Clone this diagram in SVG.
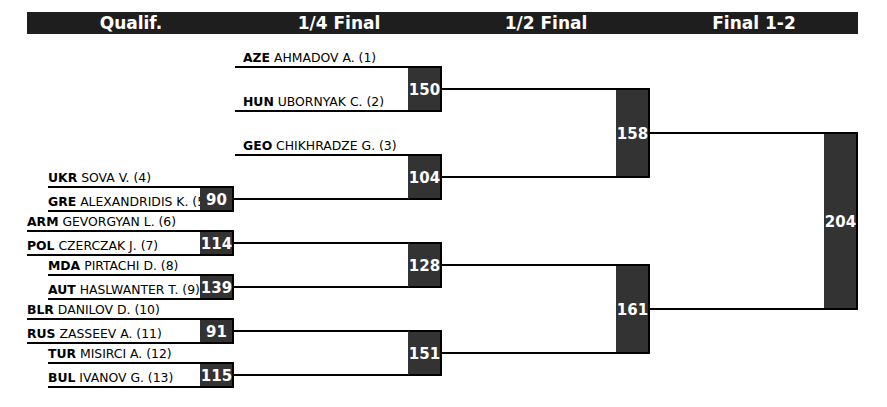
<svg xmlns="http://www.w3.org/2000/svg" width="887" height="407" viewBox="0 0 887 407">
<style>
.hdr{font-family:"DejaVu Sans",sans-serif;font-weight:bold;font-size:17px;fill:#fff;text-anchor:middle}
.nm{font-family:"DejaVu Sans",sans-serif;font-size:12.4px;fill:#000}
.nm tspan.c{font-weight:bold}
.sc{font-family:"DejaVu Sans",sans-serif;font-weight:bold;font-size:15px;fill:#fff;text-anchor:middle}
.bx{fill:#333}
.ln{stroke:#000;stroke-width:2;fill:none}
</style>
<rect x="27" y="12" width="831" height="22" fill="#1e1e1e"/>
<g id="headers">
<text class="hdr" x="131" y="29">Qualif.</text>
<text class="hdr" x="339" y="29">1/4 Final</text>
<text class="hdr" x="546" y="29">1/2 Final</text>
<text class="hdr" x="754" y="29">Final 1-2</text>
</g>
<g id="connectors">
<path class="ln" d="M234,199H409"/>
<path class="ln" d="M234,243H409"/>
<path class="ln" d="M234,287H409"/>
<path class="ln" d="M234,331H409"/>
<path class="ln" d="M234,375H409"/>
<path class="ln" d="M442,89H616"/>
<path class="ln" d="M442,177H616"/>
<path class="ln" d="M442,265H616"/>
<path class="ln" d="M442,353H616"/>
<path class="ln" d="M650,133H824"/>
<path class="ln" d="M650,309H824"/>
</g>
<g id="qA">
<text class="nm" x="48" y="182"><tspan class="c">UKR</tspan> SOVA V. (4)</text>
<text class="nm" x="48" y="206"><tspan class="c">GRE</tspan> ALEXANDRIDIS K. (5)</text>
<rect class="bx" x="200" y="187" width="33" height="24"/>
<path class="ln" d="M48,187H233V211H48"/>
<text class="sc" x="216.5" y="205">90</text>
</g>
<g id="qB">
<text class="nm" x="27" y="226"><tspan class="c">ARM</tspan> GEVORGYAN L. (6)</text>
<text class="nm" x="27" y="250"><tspan class="c">POL</tspan> CZERCZAK J. (7)</text>
<rect class="bx" x="200" y="231" width="33" height="24"/>
<path class="ln" d="M27,231H233V255H27"/>
<text class="sc" x="216.5" y="249">114</text>
</g>
<g id="qC">
<text class="nm" x="48" y="270"><tspan class="c">MDA</tspan> PIRTACHI D. (8)</text>
<text class="nm" x="48" y="294"><tspan class="c">AUT</tspan> HASLWANTER T. (9)</text>
<rect class="bx" x="200" y="275" width="33" height="24"/>
<path class="ln" d="M48,275H233V299H48"/>
<text class="sc" x="216.5" y="293">139</text>
</g>
<g id="qD">
<text class="nm" x="27" y="314"><tspan class="c">BLR</tspan> DANILOV D. (10)</text>
<text class="nm" x="27" y="338"><tspan class="c">RUS</tspan> ZASSEEV A. (11)</text>
<rect class="bx" x="200" y="319" width="33" height="24"/>
<path class="ln" d="M27,319H233V343H27"/>
<text class="sc" x="216.5" y="337">91</text>
</g>
<g id="qE">
<text class="nm" x="48" y="358"><tspan class="c">TUR</tspan> MISIRCI A. (12)</text>
<text class="nm" x="48" y="382"><tspan class="c">BUL</tspan> IVANOV G. (13)</text>
<rect class="bx" x="200" y="363" width="33" height="24"/>
<path class="ln" d="M48,363H233V387H48"/>
<text class="sc" x="216.5" y="381">115</text>
</g>
<g id="qf1">
<text class="nm" x="243" y="62"><tspan class="c">AZE</tspan> AHMADOV A. (1)</text>
<text class="nm" x="243" y="106"><tspan class="c">HUN</tspan> UBORNYAK C. (2)</text>
<rect class="bx" x="408" y="67" width="33" height="44"/>
<path class="ln" d="M235,67H441V111H235"/>
<text class="sc" x="424.5" y="95">150</text>
</g>
<g id="qf2">
<text class="nm" x="243" y="150"><tspan class="c">GEO</tspan> CHIKHRADZE G. (3)</text>
<rect class="bx" x="408" y="155" width="33" height="44"/>
<path class="ln" d="M235,155H441V199H409"/>
<text class="sc" x="424.5" y="183">104</text>
</g>
<g id="qf3">
<rect class="bx" x="408" y="243" width="33" height="44"/>
<path class="ln" d="M409,243H441V287H409"/>
<text class="sc" x="424.5" y="271">128</text>
</g>
<g id="qf4">
<rect class="bx" x="408" y="331" width="33" height="44"/>
<path class="ln" d="M409,331H441V375H409"/>
<text class="sc" x="424.5" y="359">151</text>
</g>
<g id="sf1">
<rect class="bx" x="616" y="89" width="33" height="88"/>
<path class="ln" d="M616,89H649V177H616"/>
<text class="sc" x="632.5" y="139">158</text>
</g>
<g id="sf2">
<rect class="bx" x="616" y="265" width="33" height="88"/>
<path class="ln" d="M616,265H649V353H616"/>
<text class="sc" x="632.5" y="315">161</text>
</g>
<g id="final">
<rect class="bx" x="824" y="133" width="33" height="176"/>
<path class="ln" d="M824,133H857V309H824"/>
<text class="sc" x="840.5" y="227">204</text>
</g>
</svg>
